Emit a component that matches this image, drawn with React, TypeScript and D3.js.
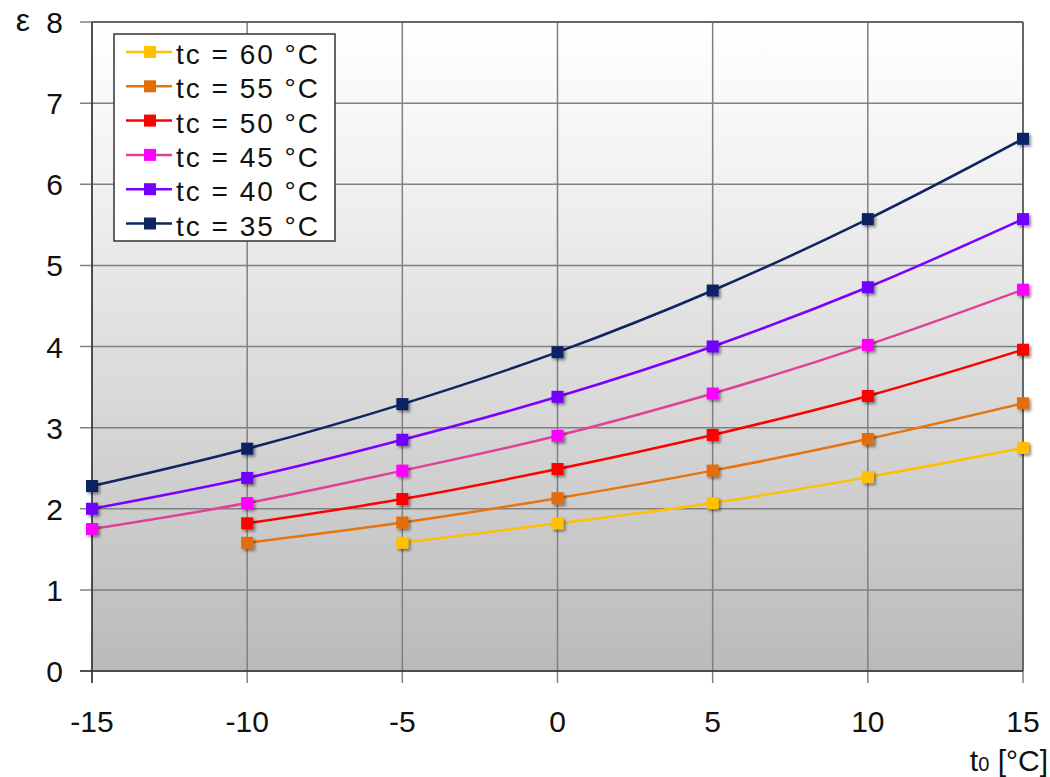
import React from "react";
import * as d3 from "d3";

const xTicks = [-15, -10, -5, 0, 5, 10, 15];
const yTicks = [0, 1, 2, 3, 4, 5, 6, 7, 8];

const t0_60 = [-5, 0, 5, 10, 15];
const eps_60 = [1.58, 1.82, 2.07, 2.39, 2.75];
const t0_55 = [-10, -5, 0, 5, 10, 15];
const eps_55 = [1.58, 1.83, 2.13, 2.47, 2.86, 3.3];
const t0_50 = [-10, -5, 0, 5, 10, 15];
const eps_50 = [1.82, 2.12, 2.49, 2.91, 3.39, 3.96];
const t0_45 = [-15, -10, -5, 0, 5, 10, 15];
const eps_45 = [1.75, 2.07, 2.47, 2.9, 3.42, 4.02, 4.7];
const t0_40 = [-15, -10, -5, 0, 5, 10, 15];
const eps_40 = [2.0, 2.38, 2.85, 3.38, 4.0, 4.73, 5.57];
const t0_35 = [-15, -10, -5, 0, 5, 10, 15];
const eps_35 = [2.28, 2.74, 3.29, 3.93, 4.69, 5.57, 6.56];

const seriesNames = ["tc = 60 °C", "tc = 55 °C", "tc = 50 °C", "tc = 45 °C", "tc = 40 °C", "tc = 35 °C"];
const lineColors = ["#FFC000", "#E8740F", "#FF0000", "#E0409A", "#7A00FF", "#0F2463"];
const markerColors = ["#FFC000", "#E36C09", "#FF0000", "#FF00FF", "#7000FF", "#0F2463"];

const seriesX = [t0_60, t0_55, t0_50, t0_45, t0_40, t0_35];
const seriesY = [eps_60, eps_55, eps_50, eps_45, eps_40, eps_35];

const W = 1050, H = 777;
const L = 92, R = 1023, T = 22, B = 671;
const font = "'Liberation Sans', Arial, sans-serif";

export default function App() {
  const x = d3.scaleLinear().domain([-15, 15]).range([L, R]);
  const y = d3.scaleLinear().domain([0, 8]).range([B, T]);
  const line = d3
    .line<[number, number]>()
    .x((d) => x(d[0]))
    .y((d) => y(d[1]))
    .curve(d3.curveCatmullRom.alpha(0.5));
  const ms = 12;

  return (
    <svg width={W} height={H} style={{ position: "absolute", left: 0, top: 0, background: "#fff" }}>
      <defs>
        <linearGradient id="bg" x1="0" y1="0" x2="0" y2="1">
          <stop offset="0" stopColor="#ffffff" />
          <stop offset="0.22" stopColor="#f3f3f3" />
          <stop offset="1" stopColor="#bababa" />
        </linearGradient>
        <filter id="sh" x="-50%" y="-50%" width="200%" height="200%">
          <feDropShadow dx="2" dy="2" stdDeviation="1.5" floodColor="#000" floodOpacity="0.45" />
        </filter>
      </defs>
      <rect x={L} y={T} width={R - L} height={B - T} fill="url(#bg)" />
      {xTicks.map((t) => (
        <line key={"gx" + t} x1={x(t)} x2={x(t)} y1={T} y2={B + 12} stroke="#808080" strokeWidth={1.5} />
      ))}
      {yTicks.map((t) => (
        <line key={"gy" + t} x1={L - 12} x2={R} y1={y(t)} y2={y(t)} stroke="#808080" strokeWidth={1.5} />
      ))}
      <line x1={L} x2={L} y1={T} y2={B + 12} stroke="#333" strokeWidth={1.5} />
      <line x1={L - 12} x2={R} y1={B} y2={B} stroke="#333" strokeWidth={1.5} />
      <line x1={L} x2={R} y1={T} y2={T} stroke="#555" strokeWidth={1.5} />
      <line x1={R} x2={R} y1={T} y2={B} stroke="#555" strokeWidth={1.5} />
      {yTicks.map((t) => (
        <text key={"ty" + t} x={63} y={y(t) + 11} textAnchor="end" fontFamily={font} fontSize={30} fill="#111">
          {t}
        </text>
      ))}
      <text x={23} y={y(8) + 9} textAnchor="middle" fontFamily={font} fontSize={32} fill="#111">ε</text>
      {xTicks.map((t) => (
        <text key={"tx" + t} x={x(t)} y={732} textAnchor="middle" fontFamily={font} fontSize={30} fill="#111">
          {t}
        </text>
      ))}
      <text x={1048} y={771} textAnchor="end" fontFamily={font} fontSize={30} fill="#111">
        t<tspan fontSize={20}>0</tspan> [°C]
      </text>
      {seriesNames.map((name, i) => {
        const pts = seriesX[i].map((v, j) => [v, seriesY[i][j]] as [number, number]);
        return (
          <g key={name}>
            <path d={line(pts) || ""} fill="none" stroke={lineColors[i]} strokeWidth={2.5} />
            {pts.map((p, j) => (
              <rect
                key={j}
                x={x(p[0]) - ms / 2}
                y={y(p[1]) - ms / 2}
                width={ms}
                height={ms}
                fill={markerColors[i]}
                filter="url(#sh)"
              />
            ))}
          </g>
        );
      })}
      <g>
        <rect x={114} y={34} width={221} height={207} fill="#fff" stroke="#333" strokeWidth={1.5} />
        {seriesNames.map((name, i) => {
          const cy = 52 + i * 34.3;
          return (
            <g key={"lg" + i}>
              <line x1={126} x2={172} y1={cy} y2={cy} stroke={lineColors[i]} strokeWidth={2.5} />
              <rect x={150 - 6} y={cy - 6} width={12} height={12} fill={markerColors[i]} />
              <text
                x={176}
                y={cy + 12}
                fontFamily={font}
                fontSize={28}
                fill="#111"
                textLength={142}
                lengthAdjust="spacing"
              >
                {name}
              </text>
            </g>
          );
        })}
      </g>
    </svg>
  );
}
